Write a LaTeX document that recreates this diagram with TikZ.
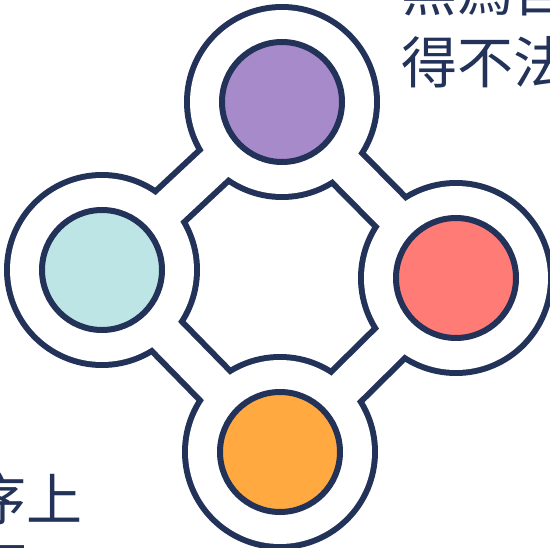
\documentclass[tikz,border=0pt]{standalone}
\usepackage{fontspec}
\usepackage{xcolor}
\usepackage{tikz}
\tikzset{>=latex}
\usetikzlibrary{positioning}
\newfontfamily\cjk{Noto Sans CJK TC}
\definecolor{navy}{RGB}{35,50,88}
\definecolor{lilac}{RGB}{167,138,202}
\definecolor{aqua}{RGB}{189,229,229}
\definecolor{salmon}{RGB}{255,123,118}
\definecolor{apricot}{RGB}{255,169,64}
\def\px{0.05cm}

\begin{document}
\begin{tikzpicture}[x=\px, y=-\px,
    hub/.style={circle, inner sep=0pt, minimum size=9.8cm, fill=navy},
    hubhole/.style={circle, inner sep=0pt, minimum size=9.2cm, fill=white},
    core/.style={circle, inner sep=0pt, minimum size=6cm, line width=0.3cm, draw=navy},
    bandedge/.style={line width=2.4cm, navy},
    bandfill/.style={line width=1.8cm, white},
    say/.style={font=\cjk\fontsize{79.7}{102}\selectfont, text=navy, inner sep=0pt}]

    \useasboundingbox (0,0) rectangle (550,548);
    \clip (0,0) rectangle (550,548);

    % Hubs
    \node[hub] (top) at (282,102) {};
    \node[hub] (left) at (102,270) {};
    \node[hub] (right) at (456,278) {};
    \node[hub] (bottom) at (280,452) {};

    % Bands, dark edge then white inside
    \foreach \a/\b in {top/left, top/right, right/bottom, bottom/left}{
    \draw[bandedge] (\a.center) -- (\b.center);
    }
    \foreach \a/\b in {top/left, top/right, right/bottom, bottom/left}{
    \draw[bandfill] (\a.center) -- (\b.center);
    }

    % Rings and coloured cores
    \foreach \n/\c in {top/lilac, left/aqua, right/salmon, bottom/apricot}{
    \node[hubhole] (\n-hole) at (\n) {};
    \node[core, fill=\c] (\n-core) at (\n) {};
    }

    % Text cut by the frame
    \node[say, anchor=base west] (say1) at (401,12) {無爲自};
    \node[say, anchor=base west] (say2) at (401,84) {得不法};
    \node[say, anchor=base east] (say3) at (83,520) {序上};
    \node[say, anchor=base west] (say4) at (-29,588) {下};

\end{tikzpicture}
\end{document}
